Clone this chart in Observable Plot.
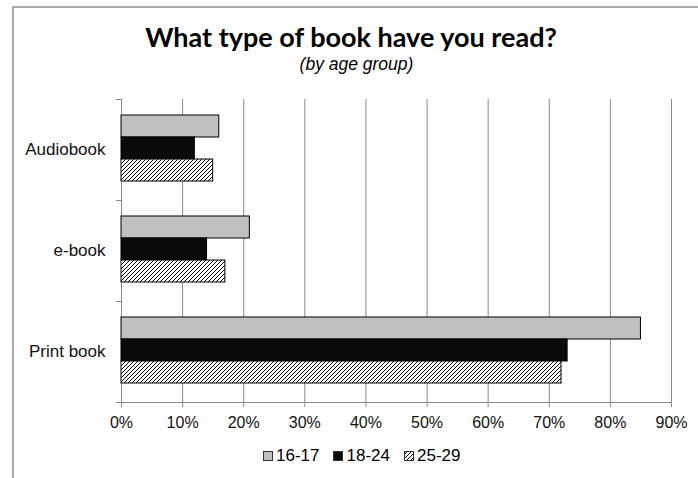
<!DOCTYPE html>
<html>
<head>
<meta charset="utf-8">
<script src="https://cdn.jsdelivr.net/npm/d3@7"></script>
<script src="https://cdn.jsdelivr.net/npm/@observablehq/plot@0.6"></script>
<style>
  body { margin: 0; background: #fff; }
  #page { position: relative; width: 698px; height: 478px; overflow: hidden; background: #fff;
          font-family: "Liberation Sans", Arial, sans-serif; color: #000; }
  #frame { position: absolute; left: 12px; top: 6px; width: 720px; height: 500px;
           border-left: 2px solid #a9a9a9; border-top: 2px solid #a9a9a9; }
  #title { position: absolute; top: 23px; left: 0; width: 702px; text-align: center;
           font-family: Lato, "Open Sans", sans-serif; font-weight: bold; font-size: 27px; line-height: 27px; }
  #subtitle { position: absolute; top: 55px; left: 0; width: 713px; text-align: center;
              font-style: italic; font-size: 17.5px; line-height: 18px; }
  #chart { position: absolute; top: 80px; left: 0; }
  #legend { position: absolute; top: 446px; left: 263px; display: flex; align-items: center;
            font-size: 17px; line-height: 20px; white-space: nowrap; }
  #legend .item { display: flex; align-items: center; margin-right: 14px; }
  #legend svg { margin-right: 3px; }
</style>
</head>
<body>
<div id="page">
  <div id="frame"></div>
  <div id="title">What type of book have you read?</div>
  <div id="subtitle">(by age group)</div>
  <div id="chart"></div>
  <div id="legend"></div>
</div>
<script>
// Book types, top to bottom
const categories = ["Audiobook", "e-book", "Print book"];
// Age groups (one bar per group within each book type)
const ageGroups = ["16-17", "18-24", "25-29"];
// Share of respondents (%) per book type, for each age group
const values1617 = [16, 21, 85];
const values1824 = [12, 14, 73];
const values2529 = [15, 17, 72];
// Percent ticks on the horizontal axis
const xTicks = [0, 10, 20, 30, 40, 50, 60, 70, 80, 90];

const groupFills = ["#c0c0c0", "#0a0a0a", "url(#hatch)"];
const GRID = "#8a8a8a";

const seriesValues = [values1617, values1824, values2529];
const rows = [];
categories.forEach((c, i) => {
  ageGroups.forEach((g, j) => rows.push({category: c, group: g, value: seriesValues[j][i]}));
});

// Diagonal hatch used for the 25-29 bars and legend swatch
function hatchDefs(sel) {
  const p = sel.append("defs").append("pattern")
    .attr("id", "hatch").attr("patternUnits", "userSpaceOnUse")
    .attr("width", 4).attr("height", 4);
  p.append("rect").attr("width", 4).attr("height", 4).attr("fill", "#fff");
  p.append("path").attr("d", "M-1,1 l2,-2 M0,4 l4,-4 M3,5 l2,-2")
    .attr("stroke", "#000").attr("stroke-width", 1);
}

const chart = Plot.plot({
  width: 698,
  height: 357,
  marginTop: 18,
  marginBottom: 35,
  marginLeft: 121,
  marginRight: 27,
  style: {fontFamily: "'Liberation Sans', Arial, sans-serif", fontSize: "16px", color: "#000", background: "transparent", overflow: "visible"},
  x: {domain: [0, 90], label: null},
  y: {domain: ageGroups, paddingInner: 0, paddingOuter: 0.74, align: 0.45, axis: null, label: null},
  fy: {domain: categories, padding: 0, label: null},
  color: {domain: ageGroups, range: groupFills},
  marks: [
    Plot.gridX({ticks: xTicks.slice(1), stroke: GRID, strokeOpacity: 1}),
    Plot.ruleX([0], {stroke: GRID}),
    Plot.barX(rows, {x: "value", y: "group", fy: "category", fill: "group", stroke: "#000", strokeWidth: 1}),
    Plot.axisX({ticks: xTicks, tickFormat: d => d + "%", tickSize: 5, tickPadding: 9, stroke: GRID, fill: "#111", fontSize: 16}),
    Plot.axisFy({anchor: "left", tickSize: 0, tickPadding: 16, fontSize: 17, fill: "#111", label: null}),
    // Category boundary ticks on the left axis, the bottom axis line and the hatch pattern
    Plot.frame({
      facet: "super",
      render(index, scales) {
        const {fy, x} = scales;
        const edges = categories.map(c => fy(c)).concat(fy(categories[categories.length - 1]) + fy.bandwidth());
        const g = d3.create("svg:g");
        hatchDefs(g);
        const lines = g.append("g").attr("stroke", GRID).attr("stroke-width", 1);
        lines.selectAll("line.edge").data(edges).join("line")
          .attr("x1", x(0) - 5).attr("x2", x(0) + 0.5)
          .attr("y1", d => Math.round(d) + 0.5).attr("y2", d => Math.round(d) + 0.5);
        const base = Math.round(edges[edges.length - 1]) + 0.5;
        lines.append("line").attr("x1", x(0)).attr("x2", x(90) + 0.5).attr("y1", base).attr("y2", base);
        return g.node();
      }
    })
  ]
});
document.getElementById("chart").append(chart);

// Legend: swatch + label for each age group
const legend = d3.select("#legend");
ageGroups.forEach((g, i) => {
  const item = legend.append("div").attr("class", "item");
  const sw = item.append("svg").attr("width", 10).attr("height", 10);
  sw.append("rect").attr("x", 0.5).attr("y", 0.5).attr("width", 9).attr("height", 9)
    .attr("fill", groupFills[i]).attr("stroke", "#333").attr("stroke-width", 1);
  item.append("span").text(g);
});
</script>
</body>
</html>
